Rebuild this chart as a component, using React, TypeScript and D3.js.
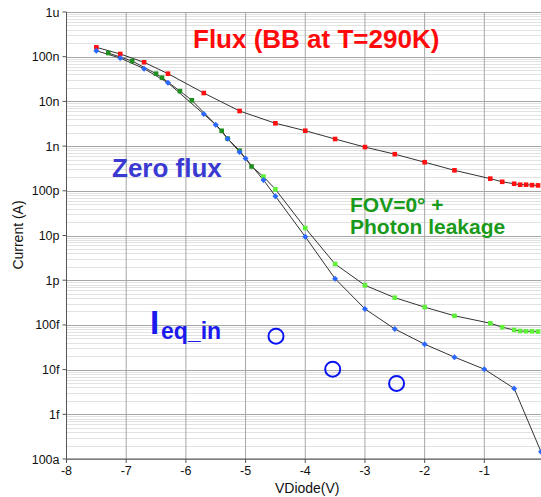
import React from "react";
import * as d3 from "d3";

const fluxV = [-7.5, -7.1, -6.7, -6.3, -5.7, -5.1, -4.5, -4.0, -3.5, -3.0, -2.5, -2.0, -1.5, -0.9, -0.7, -0.5, -0.4, -0.3, -0.2, -0.1];
const fluxI = [1.62e-7, 1.15e-7, 7.5e-8, 4.17e-8, 1.54e-8, 6.1e-9, 3.24e-9, 2.21e-9, 1.44e-9, 9.5e-10, 6.6e-10, 4.36e-10, 2.87e-10, 1.87e-10, 1.59e-10, 1.44e-10, 1.37e-10, 1.37e-10, 1.34e-10, 1.32e-10];

const zeroV = [-7.5, -7.1, -6.7, -6.3, -5.7, -5.5, -5.3, -5.1, -5.0, -4.7, -4.5, -4.0, -3.5, -3.0, -2.5, -2.0, -1.5, -1.0, -0.5, -0.05];
const zeroI = [1.36e-7, 9.3e-8, 5.4e-8, 2.6e-8, 5.2e-9, 3.0e-9, 1.46e-9, 7.4e-10, 5.3e-10, 1.74e-10, 7.6e-11, 9.4e-12, 1.08e-12, 2.28e-13, 8.1e-14, 3.7e-14, 1.9e-14, 1.02e-14, 3.8e-15, 1.45e-16];

const leakV = [-7.3, -6.9, -6.5, -6.4, -6.1, -5.9, -5.4, -5.3, -5.1, -4.9, -4.7, -4.5, -4.0, -3.5, -3.0, -2.5, -2.0, -1.5, -0.9, -0.7, -0.5, -0.4, -0.3, -0.2, -0.1];
const leakI = [1.21e-7, 8.0e-8, 4.17e-8, 3.4e-8, 1.7e-8, 1.06e-8, 2.2e-9, 1.47e-9, 7.9e-10, 3.5e-10, 2.08e-10, 1.08e-10, 1.47e-11, 2.3e-12, 7.7e-13, 4.06e-13, 2.5e-13, 1.6e-13, 1.09e-13, 8.9e-14, 7.7e-14, 7.3e-14, 7.2e-14, 7.2e-14, 7.1e-14];

const eqV = [-4.49, -3.54, -2.47];
const eqI = [5.6e-14, 1.02e-14, 4.9e-15];

const xTicks = [-8, -7, -6, -5, -4, -3, -2, -1];
const yTickValues = [1e-6, 1e-7, 1e-8, 1e-9, 1e-10, 1e-11, 1e-12, 1e-13, 1e-14, 1e-15, 1e-16];
const yTickLabels = ["1u", "100n", "10n", "1n", "100p", "10p", "1p", "100f", "10f", "1f", "100a"];

const W = 541;
const H = 497;
const left = 66.5;
const right = 544;
const top = 12;
const bottom = 459;

export default function App() {
  const x = d3.scaleLinear().domain([-8, 0]).range([left, right]);
  const y = d3.scaleLog().domain([1e-16, 1e-6]).range([bottom, top]);

  const line = d3
    .line<[number, number]>()
    .x((d) => x(d[0]))
    .y((d) => y(d[1]));

  const zip = (a: number[], b: number[]) => a.map((v, i) => [v, b[i]] as [number, number]);
  const flux = zip(fluxV, fluxI);
  const zero = zip(zeroV, zeroI);
  const leak = zip(leakV, leakI);
  const eq = zip(eqV, eqI);

  const minors: number[] = [];
  for (let e = -16; e < -6; e++) {
    for (let m = 2; m <= 9; m++) minors.push(m * Math.pow(10, e));
  }

  const tickFont = "'Liberation Sans', Arial, sans-serif";
  const boldFont = "'Liberation Sans', Arial, sans-serif";

  return (
    <svg
      width={W}
      height={H}
      style={{ position: "absolute", left: 0, top: 0, background: "#fff" }}
    >
      <defs>
        <clipPath id="plotclip">
          <rect x={left} y={top - 3} width={right - left + 5} height={bottom - top + 6} />
        </clipPath>
      </defs>
      <rect x={0} y={0} width={W} height={H} fill="#fff" />
      {minors.map((v, i) => (
        <line
          key={"mn" + i}
          x1={left}
          x2={right}
          y1={Math.round(y(v)) + 0.5}
          y2={Math.round(y(v)) + 0.5}
          stroke="#e2e2e2"
          strokeWidth={1}
        />
      ))}
      {yTickValues.map((v, i) => (
        <line
          key={"mj" + i}
          x1={left}
          x2={right}
          y1={Math.round(y(v)) + 0.5}
          y2={Math.round(y(v)) + 0.5}
          stroke="#a6a6a6"
          strokeWidth={1}
        />
      ))}
      {xTicks.slice(1).map((v) => (
        <line
          key={"vx" + v}
          x1={x(v)}
          x2={x(v)}
          y1={top}
          y2={bottom}
          stroke="#a6a6a6"
          strokeWidth={1}
        />
      ))}
      <line x1={left} x2={left} y1={top} y2={bottom} stroke="#555" strokeWidth={1} />
      <line x1={left} x2={right} y1={bottom} y2={bottom} stroke="#555" strokeWidth={1} />
      {yTickValues.map((v, i) => (
        <g key={"yt" + i}>
          <line x1={left - 4} x2={left} y1={y(v)} y2={y(v)} stroke="#555" />
          <text
            x={left - 7}
            y={y(v) + 4.5}
            textAnchor="end"
            fontFamily={tickFont}
            fontSize={12.5}
            fill="#111"
          >
            {yTickLabels[i]}
          </text>
        </g>
      ))}
      {xTicks.map((v) => (
        <g key={"xt" + v}>
          <line x1={x(v)} x2={x(v)} y1={bottom} y2={bottom + 4} stroke="#555" />
          <text
            x={x(v)}
            y={bottom + 16}
            textAnchor="middle"
            fontFamily={tickFont}
            fontSize={12.5}
            fill="#111"
          >
            {String(v)}
          </text>
        </g>
      ))}
      <text
        x={(left + right) / 2 + 2}
        y={493}
        textAnchor="middle"
        fontFamily={tickFont}
        fontSize={14}
        fill="#111"
      >
        VDiode(V)
      </text>
      <text
        transform={`translate(23, 235) rotate(-90)`}
        textAnchor="middle"
        fontFamily={tickFont}
        fontSize={14}
        fill="#111"
      >
        Current (A)
      </text>

      <g clipPath="url(#plotclip)">
        <path d={line(flux) || ""} fill="none" stroke="#333" strokeWidth={1} />
        <path d={line(leak) || ""} fill="none" stroke="#333" strokeWidth={1} />
        <path d={line(zero) || ""} fill="none" stroke="#333" strokeWidth={1} />
        {flux.map((d, i) => (
          <rect
            key={"fr" + i}
            x={x(d[0]) - 2.3}
            y={y(d[1]) - 2.3}
            width={4.6}
            height={4.6}
            fill="#ff1010"
          />
        ))}
        {leak.map((d, i) => (
          <rect
            key={"lr" + i}
            x={x(d[0]) - 2.3}
            y={y(d[1]) - 2.3}
            width={4.6}
            height={4.6}
            fill={d[0] <= -4.8 ? "#1f8f1f" : "#5ff03a"}
          />
        ))}
        {zero.map((d, i) => (
          <path
            key={"zr" + i}
            d={`M${x(d[0])},${y(d[1]) - 3}L${x(d[0]) + 3},${y(d[1])}L${x(d[0])},${y(d[1]) + 3}L${x(d[0]) - 3},${y(d[1])}Z`}
            fill="#2a68ff"
          />
        ))}
        {eq.map((d, i) => (
          <circle
            key={"eq" + i}
            cx={x(d[0])}
            cy={y(d[1])}
            r={7.5}
            fill="none"
            stroke="#0a14f0"
            strokeWidth={2}
          />
        ))}
      </g>

      <text x={193} y={48} fontFamily={boldFont} fontWeight="bold" fontSize={26} fill="#ff0a0a">
        Flux (BB at T=290K)
      </text>
      <text x={112} y={177} fontFamily={boldFont} fontWeight="bold" fontSize={26} fill="#3a3ad2">
        Zero flux
      </text>
      <text x={350} y={212} fontFamily={boldFont} fontWeight="bold" fontSize={21} fill="#1a9a1a">
        FOV=0° +
      </text>
      <text x={350} y={234} fontFamily={boldFont} fontWeight="bold" fontSize={21} fill="#1a9a1a">
        Photon leakage
      </text>
      <text x={150} y={334} fontFamily={boldFont} fontWeight="bold" fontSize={33} fill="#1a1aee">
        I
      </text>
      <text x={161} y={339} fontFamily={boldFont} fontWeight="bold" fontSize={23} fill="#1a1aee">
        eq_in
      </text>
    </svg>
  );
}
